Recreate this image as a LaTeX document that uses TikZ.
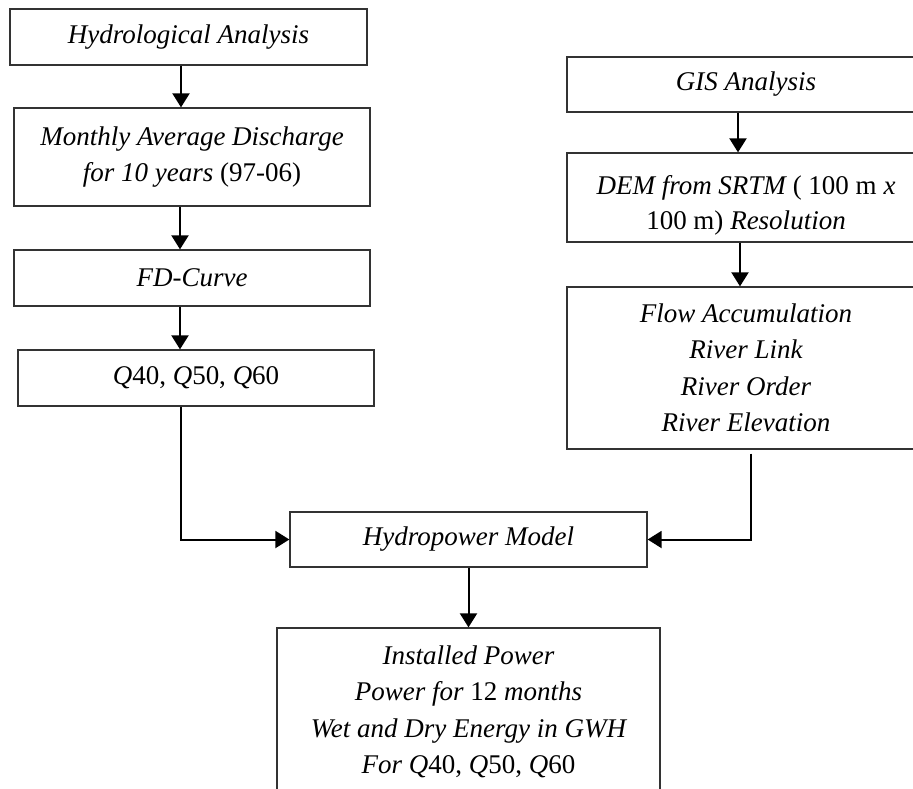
\documentclass[tikz,border=0pt]{standalone}
\usepackage{fontspec}
\setmainfont{Liberation Serif}
\usetikzlibrary{arrows.meta,calc}
\begin{document}
\begin{tikzpicture}[x=1pt,y=-1pt,
  box/.style={draw=black!80, line width=1.3pt, inner sep=0pt, align=center,
    font=\fontsize{27}{36.5}\selectfont\itshape},
  txt/.style={inner sep=0pt, align=center, font=\fontsize{27}{35}\selectfont\itshape},
  arr/.style={line width=2pt, -{Triangle[length=14pt,width=17pt]}},
  conn/.style={line width=2pt}]
\useasboundingbox (0,0) rectangle (913,788);
\clip (0,0) rectangle (913,788);
% left column
\node[box, minimum width=357pt, minimum height=56pt] (h1) at (188.5,37) {Hydrological Analysis};
\node[box, minimum width=356pt, minimum height=98pt] (h2) at (192,157) {Monthly Average Discharge\\for 10 years {\upshape(97-06)}};
\node[box, minimum width=356pt, minimum height=56pt] (h3) at (192,278) {FD-Curve};
\node[box, minimum width=356pt, minimum height=56pt] (h4) at (196,378) {Q{\upshape 40, }Q{\upshape 50, }Q{\upshape 60}};
% right column
\node[box, minimum width=358pt, minimum height=55pt] (g1) at (746,84.5) {GIS Analysis};
\node[box, minimum width=358pt, minimum height=89pt] (g2) at (746,197.5) {};
\node[txt] (g2t) at (746,205.5) {DEM from SRTM {\upshape( 100 m }x\\{\upshape 100 m)} Resolution};
\node[box, minimum width=358pt, minimum height=162pt] (g3) at (746,368) {Flow Accumulation\\River Link\\River Order\\River Elevation};
% model and output
\node[box, minimum width=357pt, minimum height=55pt] (hy) at (468.5,539.5) {Hydropower Model};
\node[box, minimum width=383pt, minimum height=168pt] (out) at (468.5,712) {Installed Power\\Power for {\upshape 12} months\\Wet and Dry Energy in GWH\\For Q{\upshape 40, }Q{\upshape 50, }Q{\upshape 60}};
% connector columns
\coordinate (cl1) at (181,0);
\coordinate (cl2) at (180,0);
\coordinate (cr1) at (738,0);
\coordinate (cr2) at (740,0);
\coordinate (cr3) at (751,0);
\draw[arr] (h1.south -| cl1) -- (h2.north -| cl1);
\draw[arr] (h2.south -| cl2) -- (h3.north -| cl2);
\draw[arr] (h3.south -| cl2) -- (h4.north -| cl2);
\draw[arr] (h4.south -| cl1) |- (hy.west);
\draw[arr] (g1.south -| cr1) -- (g2.north -| cr1);
\draw[arr] (g2.south -| cr2) -- (g3.north -| cr2);
\draw[arr] ($(g3.south -| cr3)+(0,4)$) |- (hy.east);
\draw[arr] (hy.south) -- (out.north);
\end{tikzpicture}
\end{document}
